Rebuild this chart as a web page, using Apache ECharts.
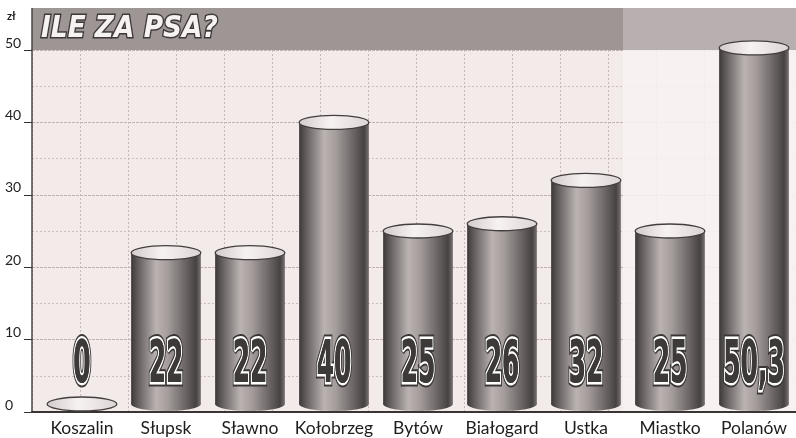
<!DOCTYPE html>
<html>
<head>
<meta charset="utf-8">
<script src="https://cdn.jsdelivr.net/npm/echarts@6/dist/echarts.min.js"></script>
<style>
  html, body { margin: 0; padding: 0; background: #ffffff; }
  #chart { width: 796px; height: 438px; }
</style>
</head>
<body>
<div id="chart"></div>
<script>
// ile kosztuje podatek od psa w poszczególnych miastach (zł)
const cities = ['Koszalin', 'Słupsk', 'Sławno', 'Kołobrzeg', 'Bytów', 'Białogard', 'Ustka', 'Miastko', 'Polanów'];
const prices = [0, 22, 22, 40, 25, 26, 32, 25, 50.3];
const chartTitle = 'ILE ZA PSA?';
const unitLabel = 'zł';

const chart = echarts.init(document.getElementById('chart'));

// boczna ściana walca - ciemne krawędzie, jaśniejszy środek
const bodyStops = [
  { offset: 0, color: '#3c3838' },
  { offset: 0.08, color: '#5c5656' },
  { offset: 0.36, color: '#bab3b2' },
  { offset: 0.52, color: '#a59e9d' },
  { offset: 0.78, color: '#6b6464' },
  { offset: 0.93, color: '#474242' },
  { offset: 1, color: '#787171' }
];
const topStops = [
  { offset: 0, color: '#d4cbcb' },
  { offset: 0.45, color: '#f7f2f2' },
  { offset: 1, color: '#ddd4d4' }
];

function fmt(v) {
  return String(v).replace('.', ',');
}

function renderCylinder(params, api) {
  const idx = api.value(0);
  const val = api.value(1);
  const top = api.coord([idx, val]);
  const base = api.coord([idx, 0]);
  const w = api.size([1, 0])[0] * 0.83;
  const rx = w / 2, ry = 7;
  const cx = top[0];
  const yb = base[1] - ry - 1;
  const yt = Math.min(top[1], yb);
  const children = [];

  if (yb - yt > 0) {
    children.push({
      type: 'ellipse',
      shape: { cx: cx, cy: yb, rx: rx, ry: ry },
      style: { fill: new echarts.graphic.LinearGradient(0, 0, 1, 0, bodyStops) }
    });
    children.push({
      type: 'rect',
      shape: { x: cx - rx, y: yt, width: w, height: yb - yt },
      style: { fill: new echarts.graphic.LinearGradient(0, 0, 1, 0, bodyStops) }
    });
  }
  children.push({
    type: 'ellipse',
    shape: { cx: cx, cy: yt, rx: rx, ry: ry },
    style: {
      fill: new echarts.graphic.LinearGradient(0, 0, 1, 0, topStops),
      stroke: '#443e3e',
      lineWidth: 1.3
    }
  });

  // duże cyfry na dole walca: ciemne wypełnienie, biała obwódka, ciemny kontur
  const ly = base[1] - 45;
  const txt = fmt(val);
  const font = 'bold 58px "DejaVu Sans"';
  [
    { stroke: '#3a3535', lineWidth: 9 },
    { stroke: '#ffffff', lineWidth: 5 },
    { stroke: null, lineWidth: 0 }
  ].forEach(function (layer) {
    children.push({
      type: 'text',
      x: cx,
      y: ly,
      scaleX: 0.43,
      style: {
        text: txt,
        font: font,
        fill: '#3e3939',
        stroke: layer.stroke,
        lineWidth: layer.lineWidth,
        lineJoin: 'round',
        align: 'center',
        verticalAlign: 'middle'
      }
    });
  });

  return { type: 'group', children: children };
}

chart.setOption({
  animation: false,
  backgroundColor: '#ffffff',
  graphic: [
    // szary pasek tytułu
    { type: 'rect', z: 1, shape: { x: 32, y: 8, width: 764, height: 42 }, style: { fill: '#9d9695' } },
    { type: 'rect', z: 1, shape: { x: 623, y: 8, width: 173, height: 42 }, style: { fill: '#b8b0b0' } },
    // jaśniejszy fragment (zdjęcie) po prawej
    { type: 'rect', z: 1, shape: { x: 623, y: 50, width: 173, height: 361 }, style: { fill: '#f8f1f1', opacity: 0.88 } },
    { type: 'line', z: 1, shape: { x1: 32, y1: 8, x2: 32, y2: 50 }, style: { stroke: '#4a4444', lineWidth: 1.5 } },
    { type: 'text', z: 1, left: 7, top: 11, style: { text: unitLabel, font: 'bold 11px Lato', fill: '#222' } },
    // tytuł - zwężony, żeby zmieścić się jak w oryginale
    {
      type: 'text',
      z: 10,
      x: 41,
      y: 29,
      scaleX: 0.88,
      style: {
        text: chartTitle,
        font: 'italic bold 30px "DejaVu Sans"',
        fill: '#f6f2f2',
        stroke: '#3e3838',
        lineWidth: 3,
        textShadowColor: 'rgba(40,32,32,0.9)',
        shadowColor: 'rgba(40,32,32,0.9)',
        shadowOffsetX: 2,
        shadowOffsetY: 2,
        shadowBlur: 0,
        verticalAlign: 'middle'
      }
    }
  ],
  grid: [
    { left: 32, right: 0, top: 50, bottom: 26, show: true, backgroundColor: '#f3ebe9', borderWidth: 0 },
    { left: 40, right: 0, top: 50, bottom: 26 }
  ],
  xAxis: [
    {
      gridIndex: 0,
      type: 'value',
      min: 0,
      max: 764,
      interval: 48,
      axisLabel: { show: false },
      axisTick: { show: false },
      axisLine: { show: true, lineStyle: { color: '#3a3535', width: 2 } },
      splitLine: { show: true, lineStyle: { color: '#c6b9b7', width: 1, type: [2, 2] } }
    },
    {
      gridIndex: 1,
      type: 'category',
      data: cities,
      axisLine: { show: false },
      axisTick: { show: false },
      axisLabel: { interval: 0, fontFamily: 'Lato', fontSize: 17.5, color: '#1e1c1c', margin: 7 }
    }
  ],
  yAxis: [
    {
      gridIndex: 0,
      type: 'value',
      min: 0,
      max: 50,
      interval: 10,
      axisLine: { show: true, lineStyle: { color: '#4a4444', width: 1.5 } },
      axisTick: { show: true, length: 8, lineStyle: { color: '#333' } },
      axisLabel: {
        fontFamily: 'Lato',
        fontSize: 14,
        color: '#222',
        align: 'left',
        verticalAlign: 'bottom',
        lineHeight: 14,
        margin: 27
      },
      splitLine: { show: true, lineStyle: { color: '#c0b2b0', width: 1, type: [3, 1] } },
      minorTick: { show: false, splitNumber: 2 },
      minorSplitLine: { show: true, lineStyle: { color: '#cbbfbd', width: 1, type: [2, 2] } }
    },
    { gridIndex: 1, type: 'value', min: 0, max: 50, show: false }
  ],
  series: [
    {
      type: 'custom',
      name: 'Cena',
      xAxisIndex: 1,
      yAxisIndex: 1,
      z: 3,
      renderItem: renderCylinder,
      data: prices.map(function (v, i) { return [i, v]; })
    }
  ]
});
</script>
</body>
</html>
